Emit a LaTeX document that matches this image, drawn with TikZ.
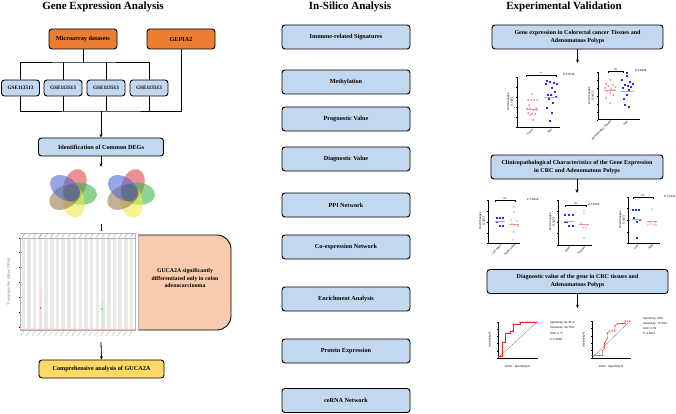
\documentclass[tikz,border=0pt]{standalone}
\usepackage{fontspec}
\setmainfont{Liberation Serif}
\setsansfont{Liberation Sans}
\usetikzlibrary{arrows.meta,calc}
\definecolor{orng}{HTML}{ED7D31}
\definecolor{lblue}{HTML}{C2D8EF}
\definecolor{peach}{HTML}{F8CBAD}
\definecolor{ylw}{HTML}{FFD966}
\definecolor{vred}{HTML}{E0474C}
\definecolor{vblue}{HTML}{4F6BD0}
\definecolor{vgreen}{HTML}{3CB94A}
\definecolor{vyel}{HTML}{F2EC4C}
\definecolor{vbrown}{HTML}{9C7A4E}
\definecolor{pblue}{HTML}{2B2BE8}
\definecolor{pred}{HTML}{E8222A}
\tikzset{
 box/.style={draw=black, line width=0.9pt, rounded corners=3pt, align=center, inner sep=1pt,
   font=\bfseries\fontsize{6.2}{8}\selectfont},
 obox/.style={box, fill=orng, minimum width=68, minimum height=20},
 gbox/.style={box, fill=lblue, minimum width=38, minimum height=16, inner sep=0pt,
   font=\bfseries\fontsize{5.2}{6}\selectfont},
 mbox/.style={box, fill=lblue, minimum width=128, minimum height=24},
 ebox/.style={box, fill=lblue, minimum height=24, font=\bfseries\fontsize{6}{8}\selectfont},
 ttl/.style={font=\bfseries\fontsize{11}{13}\selectfont},
 conn/.style={line width=0.8pt},
 arr/.style={conn, -{Stealth[length=3.5pt,width=3pt]}},
 tiny/.style={font=\sffamily\fontsize{2.8}{3.2}\selectfont, inner sep=0pt, align=center},
 ax/.style={line width=0.3pt},
 rpt/.style={fill=pred},
 bpt/.style={fill=pblue},
}
\begin{document}
\begin{tikzpicture}[x=1pt,y=-1pt]
\useasboundingbox (0,0) rectangle (676,414);
\fill[white] (0,0) rectangle (676,414);

% ================= LEFT COLUMN =================
\node[ttl] (t1) at (103,7) {Gene Expression Analysis};
\node[obox] (micro) at (83,39) {Microarray datasets};
\node[obox] (gepia) at (181,39) {GEPIA2};
\node[gbox] (g1) at (20.5,88) {GSE113513};
\node[gbox] (g2) at (63,88) {GSE113513};
\node[gbox] (g3) at (106,88) {GSE113513};
\node[gbox] (g4) at (149,88) {GSE113513};
\coordinate (j1) at (83,62);
\coordinate (j2) at (101,111);
\draw[conn] (micro.south) -- (j1);
\draw[conn] (g1.north) |- (j1) -| (g4.north);
\draw[conn] (g2.north) -- (g2.north |- j1);
\draw[conn] (g3.north) -- (g3.north |- j1);
\draw[conn] (g1.south) |- (j2) -| (gepia.south);
\draw[conn] (g2.south) -- (g2.south |- j2);
\draw[conn] (g3.south) -- (g3.south |- j2);
\draw[conn] (g4.south) -- (g4.south |- j2);
\node[box, fill=lblue, minimum width=125, minimum height=18] (deg) at (101,147) {Identification of Common DEGs};
\draw[arr] (j2) -- (deg.north);
\coordinate (vtop) at (101,167);
\draw[arr] (deg.south) -- (vtop);

% Venn diagrams
\foreach \cx in {72,130}{
 \begin{scope}[shift={(\cx,193)}, x=1pt, y=1pt]
  \foreach \ang/\col in {70/vred, -5/vgreen, -80/vyel, -150/vbrown, 145/vblue}{
    \fill[\col, opacity=0.6, rotate=\ang] (8.5,0) ellipse (16.5 and 11);
  }
  \fill[black, opacity=0.12] (0,0) circle (9);
 \end{scope}
}
\coordinate (vbot) at (101,224);
\coordinate (ctop) at (101,234);
\draw[arr] (vbot) -- (ctop);

% peach box (drawn first, chart covers its left part)
\node[draw, line width=0.9pt, fill=peach, rounded corners=14pt, minimum width=110, minimum height=95] (pbox) at (176,282.5) {};
\fill[white] (12,231) rectangle (138,345);
% chart
\fill[white] (20,238) rectangle (135,330);
\foreach \i in {0,...,19}{
  \fill[gray!17] ({21.5+5.7*\i},238) rectangle ({25+5.7*\i},330);
}
\draw[gray!60, line width=0.3pt] (20,238) rectangle (135,330);
\draw[gray!60, line width=0.3pt] (20,233) -- (135,233) -- (135,238);
\draw[gray!60, line width=0.4pt] (138,235) -- (138,330);
\foreach \i in {0,...,19}{
  \draw[gray, line width=0.3pt] ({22+5.7*\i},237.5) -- ({24.5+5.7*\i},234);
  \draw[gray!70, line width=0.3pt] ({24+5.7*\i},331) -- ({20.5+5.7*\i},336);
}
\draw[vgreen, line width=0.4pt] (39.1,237.5) -- (41.6,234);
\foreach \t in {238,252,267,282,297,312,327}{
  \draw[ax] (18.5,\t) -- (20,\t);
}
\node[tiny, rotate=90, text=gray] (ylab) at (9,282) {\fontsize{3.6}{4}\selectfont Transcripts Per Million (TPM)};
\draw[pred!20, line width=0.2pt] (40.5,290) -- (40.5,329);
\draw[vgreen!30, line width=0.2pt] (102,300) -- (102,329);
\fill[black!75] (40.5,308) circle (0.6);
\fill[black!75] (102,309) circle (0.6);
\draw[pred!35, line width=0.3pt] (20,329.5) -- (135,329.5);

\node[font=\bfseries\fontsize{5.8}{7.5}\selectfont, align=center] (ptxt) at (185,278)
  {GUCA2A significantly\\differentiated only in colon\\adenocarcinoma};

\coordinate (cbot) at (101,342);
\node[box, fill=ylw, minimum width=125, minimum height=18] (comp) at (101.5,369) {Comprehensive analysis of GUCA2A};
\draw[arr] (cbot) -- (comp.north);

% ================= MIDDLE COLUMN =================
\node[ttl] (t2) at (350,7) {In-Silico Analysis};
\node[mbox] (m1) at (346,37) {Immune-related Signatures};
\node[mbox] (m2) at (346,82) {Methylation};
\node[mbox] (m3) at (346,119) {Prognostic Value};
\node[mbox] (m4) at (346,159) {Diagnostic Value};
\node[mbox] (m5) at (346,205) {PPI Network};
\node[mbox] (m6) at (346,247) {Co-expression Network};
\node[mbox] (m7) at (346,299) {Enrichment Analysis};
\node[mbox] (m8) at (346,351) {Protein Expression};
\node[mbox] (m9) at (346,400.5) {ceRNA Network};

% ================= RIGHT COLUMN =================
\node[ttl] (t3) at (564,7) {Experimental Validation};
\node[ebox, minimum width=171] (e1) at (577.5,37) {Gene expression in Colorectal cancer Tissues and\\Adenomatous Polyps};
\coordinate (e1b) at (577.5,63);
\draw[arr] (e1.south) -- (e1b);

% scatter plot 1
\draw[ax] (517,77) -- (517,127) -- (560,127);
\foreach \t in {77,87,...,127} \draw[ax] (515.5,\t) -- (517,\t);
\draw[ax] (532,127) -- (532,128.5);
\draw[ax] (551,127) -- (551,128.5);
\node[tiny, rotate=90] (ya1) at (510,102) {Fold Changes\\(Log2)};
\draw[ax] (526,77) -- (526,75) -- (556,75) -- (556,77);
\node[tiny] (s1) at (541,73.5) {**};
\node[tiny, anchor=west] (p1) at (563,75) {P 0.0049};
\foreach \dx/\y in {0/94,-4/100,-1/100,2/100,5/100,-3/105,4/108,-5/109,-2/109,1/110,4/110,-4/113,0/114,3/114,-2/115,1/120}
  \fill[rpt] (532+\dx,\y) circle (0.75);
\foreach \dx/\y in {-4/81,-1/82,3/83,6/84,-5/84,1/88,4/92,-3/95,0/95,5/97,-2/99,2/103,-4/108,1/113,-1/121}
  \fill[bpt] ($(551,\y)+(\dx,0)+(-0.7,-0.7)$) rectangle ++(1.4,1.4);
\draw[pred!50, line width=0.5pt] (526,109) -- (538,109);
\draw[pblue!40, line width=0.5pt] (544,97) -- (558,97);
\node[tiny, rotate=45, anchor=east] (x1a) at (533,129) {Tumor};
\node[tiny, rotate=45, anchor=east] (x1b) at (552,129) {NAT};

% scatter plot 2
\draw[ax] (598,72) -- (598,119) -- (640,119);
\foreach \t in {72,80,...,120} \draw[ax] (596.5,\t) -- (598,\t);
\draw[ax] (610,119) -- (610,120.5);
\draw[ax] (627,119) -- (627,120.5);
\node[tiny, rotate=90] (ya2) at (591,96) {Fold Changes\\(Log2)};
\draw[ax] (608,73) -- (608,71) -- (623,71) -- (623,73);
\node[tiny] (s2) at (615.5,69.5) {ns};
\node[tiny, anchor=west] (p2) at (635,71) {P 0.6458};
\foreach \dx/\y in {0/80,-4/84,3/85,-2/86,5/87,-5/88,1/89,4/90,-3/91,0/93,3/95,-4/98,0/103}
  \fill[rpt] (610+\dx,\y) circle (0.75);
\foreach \dx/\y in {0/73,0/76,-5/80,3/82,6/84,-2/85,1/86,4/87,-4/88,2/90,0/95,-3/99,-2/105,2/107}
  \fill[bpt] ($(627,\y)+(\dx,0)+(-0.7,-0.7)$) rectangle ++(1.4,1.4);
\draw[pred!50, line width=0.5pt] (604,90) -- (616,90);
\draw[pblue!40, line width=0.5pt] (620,91) -- (634,91);
\node[tiny, rotate=45, anchor=east] (x2a) at (611,121) {Adenomatous Polyps};
\node[tiny, rotate=45, anchor=east] (x2b) at (628,121) {NAT};

\node[ebox, minimum width=172] (e2) at (577,167) {Clinicopathological Characteristics of the Gene Expression\\in CRC and Adenomatous Polyps};
\coordinate (e2b) at (577,193);
\draw[arr] (e2.south) -- (e2b);

% small plots
% A
\draw[ax] (488,200) -- (488,243) -- (520,243);
\foreach \t in {200,211,222,233,243} \draw[ax] (486.8,\t) -- (488,\t);
\node[tiny, rotate=90] (yaA) at (482,221) {Fold Changes\\(Log2)};
\draw[ax] (495,202) -- (495,200) -- (515,200) -- (515,202);
\node[tiny] (sA) at (505,198.5) {ns};
\node[tiny, anchor=west] (pA) at (527,200) {P 0.5629};
\foreach \dx/\y in {-3/218,0/218,3/218,-3/222,0/226,3/226}
  \fill[bpt] ($(500,\y)+(\dx,0)+(-0.6,-0.6)$) rectangle ++(1.2,1.2);
\foreach \dx/\y in {0/207,0/212,-3/220,3/221,-2/224,1/225,4/226,0/232,-1/240}
  \fill[rpt] (514+\dx,\y) circle (0.65);
\draw[pblue!40, line width=0.4pt] (495,221) -- (505,221);
\draw[pred!50, line width=0.4pt] (509,224) -- (519,224);
\node[tiny, rotate=45, anchor=east] (xA1) at (501,245) {Left sided};
\node[tiny, rotate=45, anchor=east] (xA2) at (515,245) {Right sided};
% B
\draw[ax] (558,200) -- (558,245) -- (592,245);
\foreach \t in {200,211,222,233,245} \draw[ax] (556.8,\t) -- (558,\t);
\node[tiny, rotate=90] (yaB) at (552,222) {Fold Changes\\(Log2)};
\draw[ax] (565,207) -- (565,205) -- (586,205) -- (586,207);
\node[tiny] (sB) at (575.5,203.5) {ns};
\node[tiny, anchor=west] (pB) at (588,205) {P 0.1680};
\foreach \dx/\y in {-4/215,0/215,4/215,-4/222,0/226,4/226,-2/222}
  \fill[bpt] ($(569,\y)+(\dx,0)+(-0.6,-0.6)$) rectangle ++(1.2,1.2);
\foreach \dx/\y in {0/210,0/213,-3/223,3/225,-1/228,2/228,0/238}
  \fill[rpt] (584+\dx,\y) circle (0.65);
\draw[pblue!40, line width=0.4pt] (564,221) -- (574,221);
\draw[pred!50, line width=0.4pt] (579,224) -- (589,224);
\node[tiny, rotate=45, anchor=east] (xB1) at (570,247) {Male};
\node[tiny, rotate=45, anchor=east] (xB2) at (585,247) {Female};
% C
\draw[ax] (628,197) -- (628,243) -- (660,243);
\foreach \t in {197,208,220,232,243} \draw[ax] (626.8,\t) -- (628,\t);
\node[tiny, rotate=90] (yaC) at (622,220) {Fold Changes\\(Log2)};
\draw[ax] (633,199) -- (633,197) -- (653,197) -- (653,199);
\node[tiny] (sC) at (643,195.5) {ns};
\node[tiny, anchor=west] (pC) at (664,197) {P 0.0141};
\foreach \dx/\y in {-4/210,-1/210,2/210,-3/218,3/220,0/222,0/238}
  \fill[bpt] ($(637,\y)+(\dx,0)+(-0.6,-0.6)$) rectangle ++(1.2,1.2);
\foreach \dx/\y in {0/209,-3/222,3/222,-1/224,2/225,-4/225,4/225}
  \fill[rpt] (652+\dx,\y) circle (0.65);
\draw[pblue!40, line width=0.4pt] (632,219) -- (642,219);
\draw[pred!50, line width=0.4pt] (647,221) -- (657,221);
\node[tiny, rotate=45, anchor=east] (xC1) at (638,245) {Low};
\node[tiny, rotate=45, anchor=east] (xC2) at (653,245) {High};

\node[ebox, minimum width=181] (e3) at (577.5,281.5) {Diagnostic value of the gene in CRC tissues and\\Adenomatous Polyps};
\coordinate (e3b) at (577.5,308);
\draw[arr] (e3.south) -- (e3b);

% ROC 1
\begin{scope}[shift={(498,358)}, x=0.39pt, y=0.36pt]
  \draw[ax] (0,100) -- (0,0) -- (100,0);
  \foreach \t in {0,20,...,100}{\draw[ax] (-3,\t) -- (0,\t); \draw[ax] (\t,0) -- (\t,-4);}
  \draw[line width=0.25pt, gray!80!black] (0,0) -- (100,100);
  \draw[pred, line width=0.4pt] (0,0) -- (0,6) -- (12,6) -- (12,19) -- (12,44) -- (19,44) -- (19,69) -- (31,69) -- (31,75) -- (38,75) -- (38,94) -- (56,94) -- (56,100) -- (100,100);
  \foreach \px/\py in {0/6,6/6,12/6,12/19,12/44,19/44,19/69,25/69,31/69,38/75,38/94,44/94,50/94,56/100,62/100,69/100,75/100,81/100,88/100,94/100,100/100}
    \fill[pred] (\px,\py) circle (1.6);
\end{scope}
\node[tiny, rotate=90] (yr1) at (490,340) {Sensitivity\%};
\node[tiny] (xr1) at (517.5,367) {100\% - Specificity\%};
\node[tiny, anchor=west, align=left] (rt1) at (550,331) {Specificity: 81.25 \%\\[1.8pt]Sensitivity: 68.75\%\\[3pt]AUC: 0.77\\[3pt]P: 0.0083};

% ROC 2
\begin{scope}[shift={(592,358)}, x=0.38pt, y=0.37pt]
  \draw[ax] (0,100) -- (0,0) -- (100,0);
  \foreach \t in {0,20,...,100}{\draw[ax] (-3,\t) -- (0,\t); \draw[ax] (\t,0) -- (\t,-4);}
  \draw[line width=0.25pt, gray!80!black] (0,0) -- (100,100);
  \draw[pred, line width=0.4pt] (0,0) -- (0,7) -- (27,7) -- (27,20) -- (33,27) -- (33,40) -- (40,53) -- (40,67) -- (47,73) -- (60,73) -- (60,87) -- (67,93) -- (87,93) -- (87,100) -- (100,100);
  \foreach \px/\py in {0/7,20/7,27/7,27/20,33/27,33/40,40/53,40/67,47/73,53/73,60/73,60/87,67/93,73/93,80/93,87/93,87/100,93/100,100/100}
    \fill[pred] (\px,\py) circle (1.6);
\end{scope}
\node[tiny, rotate=90] (yr2) at (584,340) {Sensitivity\%};
\node[tiny] (xr2) at (611,367) {100\% - Specificity\%};
\node[tiny, anchor=west, align=left] (rt2) at (643,326) {Specificity: 80\%\\[1.8pt]Sensitivity: 73.33\%\\[1.8pt]AUC: 0.59\\[1.8pt]P: 0.3837};
\end{tikzpicture}
\end{document}
